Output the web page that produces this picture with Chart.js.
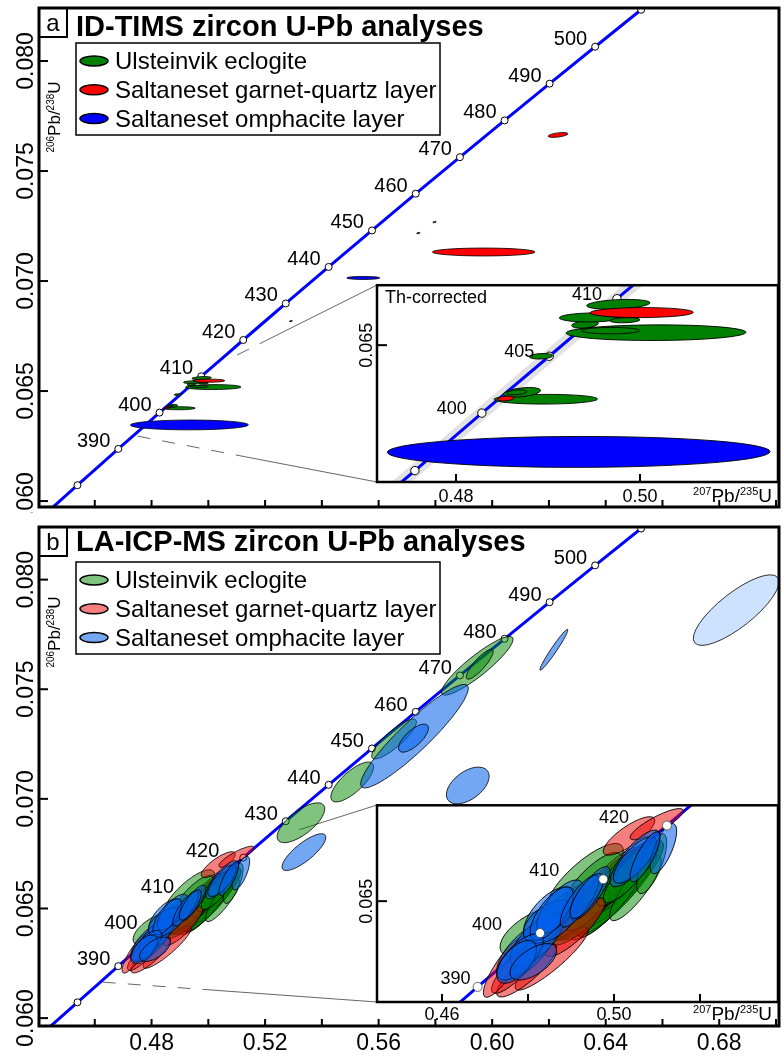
<!DOCTYPE html>
<html>
<head>
<meta charset="utf-8">
<script src="https://cdn.jsdelivr.net/npm/chart.js@4.4.1/dist/chart.umd.min.js"></script>
<style>
html, body { margin: 0; padding: 0; background: #fff; }
#wrap { position: relative; width: 784px; height: 1057px; overflow: hidden; }
#wrap canvas { position: absolute; }
</style>
</head>
<body>
<div id="wrap">
  <canvas id="mainA" width="784" height="520" style="left:0;top:0"></canvas>
  <canvas id="insetA" width="432" height="225" style="left:352px;top:280px"></canvas>
  <canvas id="mainB" width="784" height="544" style="left:0;top:513px"></canvas>
  <canvas id="insetB" width="432" height="222" style="left:352px;top:800px"></canvas>
</div>
<script>
const FONT = "'Liberation Sans', Arial, Helvetica, sans-serif";

// concordia: age (Ma), 207Pb/235U, 206Pb/238U
const concordiaAges = [370, 375, 380, 385, 390, 395, 400, 405, 410, 415, 420, 425, 430, 440, 450, 460, 470, 480, 490, 500, 510, 520];
const concordiaX = [0.43964, 0.44675, 0.45389, 0.46107, 0.46828, 0.47553, 0.48281, 0.49013, 0.49749, 0.50488, 0.51231, 0.51977, 0.52728, 0.54239, 0.55766, 0.57307, 0.58864, 0.60437, 0.62024, 0.63628, 0.65247, 0.66883];
const concordiaY = [0.05908, 0.05990, 0.06072, 0.06154, 0.06237, 0.06319, 0.06402, 0.06484, 0.06567, 0.06649, 0.06732, 0.06815, 0.06898, 0.07064, 0.07230, 0.07397, 0.07563, 0.07730, 0.07897, 0.08065, 0.08233, 0.08401];

// ticks
const mainXTicks = [0.46, 0.48, 0.50, 0.52, 0.54, 0.56, 0.58, 0.60, 0.62, 0.64, 0.66, 0.68, 0.70];
const mainXLabels = ['0.48', '0.52', '0.56', '0.60', '0.64', '0.68'];
const mainYLabels = ['0.060', '0.065', '0.070', '0.075', '0.080'];
const insetAXLabels = ['0.48', '0.50'];
const insetBXTicks = [0.46, 0.48, 0.50, 0.52];
const insetBXLabels = ['0.46', '0.50'];
const insetYLabels = ['0.065'];

const seriesNames = ['Ulsteinvik eclogite', 'Saltaneset garnet-quartz layer', 'Saltaneset omphacite layer'];

// error ellipses: [207Pb/235U, 206Pb/238U, 2s x, 2s y, rho]
const timsUlsteinvik = [
  [0.50174, 0.06518, 0.00978, 0.000113, 0.05],
  [0.49681, 0.06521, 0.00317, 0.000046, 0.0],
  [0.49402, 0.06530, 0.00145, 0.000055, 0.3],
  [0.49471, 0.06540, 0.00348, 0.000065, 0.1],
  [0.49837, 0.06536, 0.00163, 0.000038, 0.2],
  [0.49764, 0.06559, 0.00344, 0.000070, 0.3],
  [0.49753, 0.06544, 0.00163, 0.000034, 0.0],
  [0.48924, 0.06484, 0.00127, 0.000040, 0.2],
  [0.48975, 0.06422, 0.00563, 0.000070, 0.05],
  [0.48717, 0.06432, 0.00203, 0.000070, 0.4],
  [0.48660, 0.06432, 0.00109, 0.000036, 0.3],
  [0.57970, 0.07268, 0.00060, 0.000030, 0.5],
  [0.57400, 0.07218, 0.00060, 0.000030, 0.5],
  [0.52910, 0.06818, 0.00050, 0.000030, 0.5]
];
const timsGarnet = [
  [0.50018, 0.06547, 0.00562, 0.000072, 0.05],
  [0.48540, 0.06423, 0.00090, 0.000036, 0.3],
  [0.59700, 0.07132, 0.01807, 0.000180, 0.0],
  [0.62320, 0.07664, 0.00350, 0.000110, 0.5]
];
const timsOmphacite = [
  [0.49333, 0.06346, 0.02080, 0.000223, 0.02],
  [0.55460, 0.07014, 0.00580, 0.000070, 0.0]
];

const laUlsteinvik = [
  [0.59474, 0.07607, 0.01263, 0.00134, 0.90],
  [0.59561, 0.07614, 0.00474, 0.00068, 0.85],
  [0.56544, 0.07273, 0.00790, 0.00091, 0.85],
  [0.55070, 0.07077, 0.00754, 0.00091, 0.75],
  [0.53263, 0.06891, 0.00840, 0.00091, 0.70],
  [0.48163, 0.06406, 0.00814, 0.00077, 0.60],
  [0.49326, 0.06570, 0.00891, 0.00107, 0.80],
  [0.50063, 0.06534, 0.01085, 0.00153, 0.90],
  [0.49597, 0.06493, 0.00930, 0.00112, 0.85],
  [0.50876, 0.06615, 0.00349, 0.00092, 0.70],
  [0.50063, 0.06564, 0.00698, 0.00102, 0.85],
  [0.48900, 0.06472, 0.00853, 0.00092, 0.80],
  [0.49700, 0.06520, 0.00800, 0.00100, 0.85],
  [0.49900, 0.06500, 0.00750, 0.00110, 0.88],
  [0.50300, 0.06580, 0.00700, 0.00095, 0.85],
  [0.49500, 0.06560, 0.00680, 0.00090, 0.80],
  [0.50500, 0.06540, 0.00600, 0.00100, 0.85],
  [0.49200, 0.06450, 0.00700, 0.00085, 0.80],
  [0.50063, 0.06528, 0.00930, 0.00128, 0.88],
  [0.49674, 0.06503, 0.01008, 0.00123, 0.88],
  [0.50295, 0.06574, 0.00853, 0.00112, 0.85],
  [0.49442, 0.06493, 0.00930, 0.00112, 0.85],
  [0.49907, 0.06513, 0.00930, 0.00112, 0.88],
  [0.49800, 0.06540, 0.00800, 0.00115, 0.88],
  [0.50150, 0.06560, 0.00760, 0.00105, 0.87],
  [0.49600, 0.06510, 0.00720, 0.00100, 0.86],
  [0.50400, 0.06590, 0.00650, 0.00095, 0.86],
  [0.49350, 0.06480, 0.00780, 0.00100, 0.85],
  [0.50000, 0.06520, 0.00880, 0.00125, 0.89]
];
const laGarnet = [
  [0.47465, 0.06298, 0.00504, 0.00093, 0.85],
  [0.48551, 0.06324, 0.00853, 0.00097, 0.90],
  [0.47751, 0.06299, 0.00600, 0.00082, 0.85],
  [0.47969, 0.06288, 0.00698, 0.00082, 0.85],
  [0.50349, 0.06700, 0.00600, 0.00059, 0.80],
  [0.50993, 0.06736, 0.00620, 0.00048, 0.85],
  [0.49830, 0.06544, 0.00853, 0.00123, 0.85],
  [0.50063, 0.06554, 0.00930, 0.00133, 0.88],
  [0.49100, 0.06420, 0.00700, 0.00090, 0.85],
  [0.49700, 0.06520, 0.00820, 0.00115, 0.88],
  [0.50200, 0.06570, 0.00780, 0.00110, 0.87],
  [0.49400, 0.06490, 0.00750, 0.00100, 0.86]
];
const laOmphacite = [
  [0.57263, 0.07286, 0.01895, 0.00236, 0.92],
  [0.57228, 0.07277, 0.00526, 0.00064, 0.70],
  [0.59140, 0.07061, 0.00754, 0.00084, 0.50],
  [0.62175, 0.07680, 0.00491, 0.00093, 0.97],
  [0.53368, 0.06757, 0.00772, 0.00084, 0.80],
  [0.48512, 0.06457, 0.00620, 0.00087, 0.60],
  [0.47969, 0.06350, 0.00698, 0.00092, 0.70],
  [0.48202, 0.06381, 0.00620, 0.00082, 0.70],
  [0.47814, 0.06329, 0.00543, 0.00071, 0.70],
  [0.48551, 0.06462, 0.00504, 0.00082, 0.70],
  [0.48744, 0.06483, 0.00543, 0.00082, 0.70],
  [0.49365, 0.06516, 0.00388, 0.00069, 0.75],
  [0.49442, 0.06524, 0.00465, 0.00082, 0.80],
  [0.50488, 0.06631, 0.00581, 0.00087, 0.80],
  [0.50488, 0.06626, 0.00504, 0.00071, 0.75],
  [0.50721, 0.06636, 0.00349, 0.00077, 0.80],
  [0.51147, 0.06661, 0.00310, 0.00077, 0.70],
  [0.48512, 0.06437, 0.00620, 0.00066, 0.50],
  [0.47737, 0.06314, 0.00465, 0.00066, 0.60],
  [0.48123, 0.06314, 0.00543, 0.00056, 0.60],
  [0.49200, 0.06500, 0.00450, 0.00080, 0.80]
];
const laOmphaciteDiscordant = [
  [0.68596, 0.07861, 0.01509, 0.00161, 0.80]
];

const timsColors = ['#008000', '#ff0000', '#0000ff'];
const laColors = ['rgba(0,135,0,0.5)', 'rgba(235,0,0,0.5)', 'rgba(0,95,235,0.55)'];

const timsGroups = [
  { data: timsUlsteinvik, fill: timsColors[0], layer: 0 },
  { data: timsGarnet, fill: timsColors[1], layer: 1 },
  { data: timsOmphacite, fill: timsColors[2], layer: 2 }
];
// red and green share a layer (drawn largest first), blue goes on top
const laGroups = [
  { data: laGarnet, fill: laColors[1], layer: 0 },
  { data: laUlsteinvik, fill: laColors[0], layer: 0 },
  { data: laOmphacite, fill: laColors[2], layer: 1 },
  { data: laOmphaciteDiscordant, fill: 'rgba(0,110,255,0.2)', layer: 1 }
];

function drawEllipse(ctx, xs, ys, e, fill, lw) {
  const [x, y, sx, sy, rho] = e;
  const cx = xs.getPixelForValue(x), cy = ys.getPixelForValue(y);
  const a = Math.abs(xs.getPixelForValue(x + sx) - cx);
  const b = Math.abs(ys.getPixelForValue(y + sy) - cy);
  const c = -rho * a * b;
  const tr = (a * a + b * b) / 2, df = (a * a - b * b) / 2;
  const root = Math.sqrt(df * df + c * c);
  const l1 = tr + root, l2 = Math.max(tr - root, 0.04);
  const ang = 0.5 * Math.atan2(2 * c, a * a - b * b);
  ctx.beginPath();
  ctx.ellipse(cx, cy, Math.sqrt(l1), Math.sqrt(l2), ang, 0, Math.PI * 2);
  ctx.fillStyle = fill;
  ctx.fill();
  ctx.lineWidth = lw;
  ctx.strokeStyle = '#000';
  ctx.stroke();
}

function drawParts(ctx, parts, x, y, size, supSize, align) {
  let total = 0;
  const ws = parts.map(([t, sup]) => {
    ctx.font = (sup ? supSize : size) + 'px ' + FONT;
    const w = ctx.measureText(t).width;
    total += w;
    return w;
  });
  let start = align === 'center' ? x - total / 2 : align === 'right' ? x - total : x;
  ctx.textAlign = 'left';
  parts.forEach(([t, sup], i) => {
    ctx.font = (sup ? supSize : size) + 'px ' + FONT;
    ctx.fillText(t, start, sup ? y - size * 0.36 : y);
    start += ws[i];
  });
}

function makePanelPlugin(cfg) {
  return {
    id: 'panel',
    beforeDraw(chart) {
      const { ctx, chartArea: ca } = chart;
      ctx.save();
      ctx.fillStyle = '#fff';
      if (cfg.inset) ctx.fillRect(ca.left, ca.top, ca.width, ca.height);
      else ctx.fillRect(0, 0, chart.width, chart.height);
      ctx.restore();
    },
    beforeDatasetsDraw(chart) {
      if (!cfg.connectors) return;
      const { ctx, scales: { x: xs, y: ys } } = chart;
      ctx.save();
      ctx.strokeStyle = '#555';
      ctx.lineWidth = 0.9;
      cfg.connectors.forEach(cn => {
        const x0 = xs.getPixelForValue(cn.from[0]), y0 = ys.getPixelForValue(cn.from[1]);
        const x1 = cn.to[0], y1 = cn.to[1] - cfg.top;
        const xm = x0 + (x1 - x0) * cn.dashed, ym = y0 + (y1 - y0) * cn.dashed;
        ctx.setLineDash([13, 12]);
        ctx.beginPath(); ctx.moveTo(x0, y0); ctx.lineTo(xm, ym); ctx.stroke();
        ctx.setLineDash([]);
        ctx.beginPath(); ctx.moveTo(xm, ym); ctx.lineTo(x1, y1); ctx.stroke();
      });
      ctx.restore();
    },
    afterDatasetDraw(chart, args) {
      if (args.index !== cfg.ellipsesAfter) return;
      const { ctx, chartArea: ca, scales: { x: xs, y: ys } } = chart;
      const items = [];
      cfg.groups.forEach(g => g.data.forEach((e, k) => {
        if (cfg.maxX && e[0] > cfg.maxX) return;
        const area = e[2] * e[3] * Math.sqrt(1 - e[4] * e[4]);
        items.push({ e, fill: g.fill, layer: g.layer, key: cfg.sortBySize ? -area : k });
      }));
      items.sort((p, q) => p.layer - q.layer || p.key - q.key);
      ctx.save();
      ctx.beginPath();
      ctx.rect(ca.left, ca.top, ca.width, ca.height);
      ctx.clip();
      items.forEach(it => drawEllipse(ctx, xs, ys, it.e, it.fill, cfg.ellipseLw));
      ctx.restore();
    },
    afterDraw(chart) {
      const { ctx, chartArea: ca, scales: { x: xs, y: ys } } = chart;
      ctx.save();
      ctx.fillStyle = '#000';
      ctx.strokeStyle = '#000';

      // age labels on the concordia
      ctx.font = cfg.ageFont + 'px ' + FONT;
      ctx.textAlign = 'right';
      ctx.textBaseline = 'alphabetic';
      cfg.labelAges.forEach(age => {
        const i = concordiaAges.indexOf(age);
        const px = xs.getPixelForValue(concordiaX[i]);
        const py = ys.getPixelForValue(concordiaY[i]);
        const sh = (cfg.labelShift && cfg.labelShift[age]) || 0;
        ctx.fillText(String(age), px - cfg.labelDx + sh, py + cfg.labelDy);
      });

      // frame
      ctx.lineWidth = cfg.frameLw;
      ctx.strokeRect(ca.left, ca.top, ca.width, ca.height);

      // ticks
      ctx.lineWidth = 2;
      cfg.xTicks.forEach(v => {
        const px = xs.getPixelForValue(v);
        ctx.beginPath(); ctx.moveTo(px, ca.bottom); ctx.lineTo(px, ca.bottom - cfg.xTickLen); ctx.stroke();
      });
      cfg.yLabels.forEach(l => {
        const py = ys.getPixelForValue(parseFloat(l));
        ctx.beginPath(); ctx.moveTo(ca.left, py); ctx.lineTo(ca.left + cfg.yTickLen, py); ctx.stroke();
      });

      // tick labels
      ctx.font = cfg.tickFont + 'px ' + FONT;
      ctx.textAlign = 'center';
      cfg.xLabels.forEach(l => {
        ctx.fillText(l, xs.getPixelForValue(parseFloat(l)), ca.bottom + cfg.xLabelOff);
      });
      cfg.yLabels.forEach(l => {
        const py = ys.getPixelForValue(parseFloat(l));
        ctx.save();
        ctx.translate(ca.left - cfg.yLabelGap, py);
        ctx.rotate(-Math.PI / 2);
        ctx.fillText(l, 0, 0);
        ctx.restore();
      });

      if (cfg.inset) {
        drawParts(ctx, [['207', true], ['Pb/', false], ['235', true], ['U', false]],
          ca.right - 6, ca.bottom + cfg.xLabelOff, 19, 11, 'right');
        if (cfg.note) {
          ctx.font = '18px ' + FONT;
          ctx.textAlign = 'left';
          ctx.fillText(cfg.note, ca.left + 8, ca.top + 18);
        }
      } else {
        // y axis title
        ctx.save();
        ctx.translate(ca.left + 21, ca.top + cfg.yTitleOff);
        ctx.rotate(-Math.PI / 2);
        drawParts(ctx, [['206', true], ['Pb/', false], ['238', true], ['U', false]], 0, 0, 17, 10, 'center');
        ctx.restore();

        // panel letter + title
        ctx.lineWidth = 2;
        ctx.strokeRect(ca.left, ca.top, 28, 29);
        ctx.font = '24px ' + FONT;
        ctx.textAlign = 'center';
        ctx.fillText(cfg.letter, ca.left + 14, ca.top + 23);
        ctx.font = 'bold 29px ' + FONT;
        ctx.textAlign = 'left';
        ctx.fillText(cfg.title, ca.left + 37, ca.top + cfg.titleOff);

        // legend
        const lx = 76, ly = ca.top + 35;
        ctx.lineWidth = 1.5;
        ctx.strokeRect(lx, ly, 364, 92);
        seriesNames.forEach((name, i) => {
          const cy = ly + 18 + i * 28.8;
          ctx.beginPath();
          ctx.ellipse(lx + 18, cy, 14, 5, 0, 0, Math.PI * 2);
          ctx.fillStyle = '#fff';
          ctx.fill();
          ctx.fillStyle = cfg.legendColors[i];
          ctx.fill();
          ctx.lineWidth = 1.5;
          ctx.stroke();
          ctx.fillStyle = '#000';
          ctx.font = '24px ' + FONT;
          ctx.fillText(name, lx + 39, cy + 8);
        });
      }
      ctx.restore();
    }
  };
}

// datasets are drawn last-to-first, so the array is [top ... bottom]
function concordiaSets(step, radius, band, separateMarkers, markerBorder) {
  const pts = () => concordiaAges.map((a, i) => ({ x: concordiaX[i], y: concordiaY[i] }));
  const rad = c => (concordiaAges[c.dataIndex] % step === 0 ? radius : 0);
  const sets = [];
  if (separateMarkers) {
    sets.push({
      data: pts(), showLine: false, pointRadius: rad,
      pointBackgroundColor: '#fff', pointBorderColor: markerBorder, pointBorderWidth: 0.8
    });
  }
  sets.push({
    data: pts(), showLine: true, borderColor: '#0000ff', borderWidth: 3,
    pointRadius: separateMarkers ? 0 : rad,
    pointBackgroundColor: '#fff', pointBorderColor: markerBorder, pointBorderWidth: 1
  });
  if (band) {
    sets.push({ data: pts(), showLine: true, borderColor: '#e2e2e2', borderWidth: 13, pointRadius: 0 });
  }
  return sets;
}

function makeChart(id, cfg, datasets, padding, xr, yr) {
  return new Chart(document.getElementById(id), {
    type: 'scatter',
    data: { datasets },
    options: {
      responsive: false,
      animation: false,
      events: [],
      layout: { padding },
      scales: {
        x: { type: 'linear', min: xr[0], max: xr[1], display: false },
        y: { type: 'linear', min: yr[0], max: yr[1], display: false }
      },
      plugins: { legend: { display: false }, tooltip: { enabled: false } }
    },
    plugins: [makePanelPlugin(cfg)]
  });
}

const labelAgesMain = [390, 400, 410, 420, 430, 440, 450, 460, 470, 480, 490, 500];

makeChart('mainA', {
  top: 0, groups: timsGroups, ellipsesAfter: 0, ellipseLw: 0.8,
  labelAges: labelAgesMain, ageFont: 20, labelDx: 8, labelDy: -2,
  frameLw: 3, xTicks: mainXTicks, xTickLen: 7, yTickLen: 9,
  tickFont: 23, xLabels: [], xLabelOff: 24, yLabels: mainYLabels, yLabelGap: 6,
  yTitleOff: 109, letter: 'a', title: 'ID-TIMS zircon U-Pb analyses', titleOff: 28,
  legendColors: timsColors,
  connectors: [
    { from: [0.51018, 0.06664], to: [377, 285], dashed: 0.2 },
    { from: [0.47509, 0.06295], to: [377, 482], dashed: 0.45 }
  ]
}, concordiaSets(10, 3.5, false, false, '#000'),
  { left: 39, right: 2, top: 8, bottom: 13 }, [0.44035, 0.70105], [0.05973, 0.08241]);

makeChart('insetA', {
  inset: true, top: 280, groups: timsGroups, ellipsesAfter: 0, ellipseLw: 0.9,
  labelAges: [400, 405, 410], ageFont: 18, labelDx: 15, labelDy: 1,
  frameLw: 2.5, xTicks: [0.48, 0.50], xTickLen: 8, yTickLen: 10,
  tickFont: 18, xLabels: insetAXLabels, xLabelOff: 20, yLabels: insetYLabels, yLabelGap: 5,
  note: 'Th-corrected'
}, concordiaSets(5, 4.2, true, false, '#000'),
  { left: 25, right: 6, top: 5, bottom: 23 }, [0.47141, 0.51500], [0.063026, 0.065865]);

makeChart('mainB', {
  top: 513, groups: laGroups, ellipsesAfter: 0, ellipseLw: 0.8, sortBySize: true,
  labelAges: labelAgesMain, ageFont: 20, labelDx: 8, labelDy: -1,
  labelShift: { 400: -14, 410: -19, 420: -16 },
  frameLw: 3, xTicks: mainXTicks, xTickLen: 7, yTickLen: 9,
  tickFont: 23, xLabels: mainXLabels, xLabelOff: 24, yLabels: mainYLabels, yLabelGap: 6,
  yTitleOff: 105, letter: 'b', title: 'LA-ICP-MS zircon U-Pb analyses', titleOff: 24,
  legendColors: laColors,
  connectors: [
    { from: [0.53193, 0.06859], to: [377, 805], dashed: 0.0 },
    { from: [0.46281, 0.06164], to: [377, 1002], dashed: 0.38 }
  ]
}, concordiaSets(10, 3.5, false, false, '#000'),
  { left: 39, right: 2, top: 14, bottom: 31 }, [0.44035, 0.70105], [0.05964, 0.08240]);

makeChart('insetB', {
  inset: true, top: 800, groups: laGroups, ellipsesAfter: 1, ellipseLw: 0.9, maxX: 0.525, sortBySize: true,
  labelAges: [390, 400, 410, 420], ageFont: 18, labelDx: 7, labelDy: -3,
  labelShift: { 400: -31, 410: -37, 420: -31 },
  frameLw: 2.5, xTicks: insetBXTicks, xTickLen: 8, yTickLen: 10,
  tickFont: 18, xLabels: insetBXLabels, xLabelOff: 18, yLabels: insetYLabels, yLabelGap: 5
}, concordiaSets(10, 4.5, false, true, '#444'),
  { left: 25, right: 6, top: 5, bottom: 20 }, [0.44488, 0.53814], [0.061907, 0.067940]);
</script>
</body>
</html>
